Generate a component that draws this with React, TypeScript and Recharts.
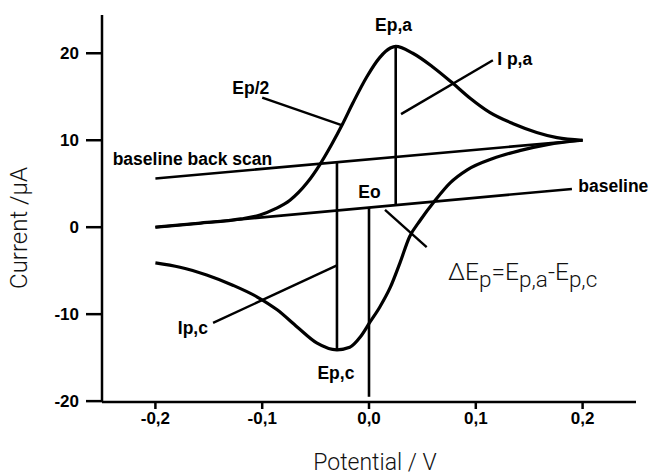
import { ComposedChart, Line, XAxis, YAxis, ReferenceLine, ReferenceDot, Label } from 'recharts';

// anodic sweep, [potential V, current µA]
const forwardScan = [
  [-0.2, 0.0], [-0.16, 0.45], [-0.12, 0.95], [-0.102, 1.4], [-0.088, 2.1], [-0.074, 3.1],
  [-0.058, 5.1], [-0.046, 7.2], [-0.035, 9.5], [-0.025, 11.8], [-0.015, 14.3], [-0.002, 17.3],
  [0.01, 19.5], [0.02, 20.6], [0.025, 20.8], [0.041, 20.0], [0.06, 18.4], [0.078, 16.6],
  [0.095, 14.8], [0.113, 13.2], [0.135, 11.9], [0.157, 10.9], [0.176, 10.3], [0.2, 10.0],
];

// cathodic (back) sweep, listed by increasing potential
const reverseScan = [
  [-0.2, -4.1], [-0.177, -4.6], [-0.152, -5.5], [-0.127, -6.7], [-0.105, -8.0], [-0.086, -9.5],
  [-0.067, -11.5], [-0.049, -13.3], [-0.03, -14.1], [-0.018, -13.8], [-0.008, -12.6], [0.001, -10.9],
  [0.01, -9.2], [0.02, -6.9], [0.029, -4.1], [0.038, -1.1], [0.048, 0.8], [0.062, 3.1],
  [0.076, 5.1], [0.092, 6.6], [0.116, 7.9], [0.141, 8.8], [0.167, 9.5], [0.2, 10.0],
];

const baseline = [[-0.2, 0.0], [0.19, 4.4]];
const backScanBaseline = [[-0.2, 5.6], [0.2, 10.0]];

// peak heights down to their baselines, plus the formal potential
const markers = [
  [[0.025, 20.8], [0.025, 2.5]],
  [[-0.03, -14.1], [-0.03, 7.5]],
  [[0.0, 2.3], [0.0, -19.5]],
];

// pointer lines from the labels
const leaders = [
  [[-0.1, 14.9], [-0.025, 11.7]],
  [[0.116, 19.2], [0.03, 13.0]],
  [[-0.146, -11.0], [-0.03, -4.4]],
  [[0.015, 2.0], [0.054, -2.3]],
];

const labels = [
  { text: 'Ep,a', E: 0.023, I: 22.6, anchor: 'middle' },
  { text: 'I p,a', E: 0.12, I: 18.6, anchor: 'start' },
  { text: 'Ep/2', E: -0.128, I: 15.3, anchor: 'start' },
  { text: 'baseline back scan', E: -0.24, I: 7.1, anchor: 'start' },
  { text: 'baseline', E: 0.196, I: 4.1, anchor: 'start' },
  { text: 'Eo', E: -0.01, I: 3.4, anchor: 'start' },
  { text: 'Ip,c', E: -0.179, I: -12.3, anchor: 'start' },
  { text: 'Ep,c', E: -0.031, I: -17.5, anchor: 'middle' },
];

const deltaLabel = { E: 0.074, I: -6.1 };

const xTicks = [-0.2, -0.1, 0, 0.1, 0.2];
const yTicks = [-20, -10, 0, 10, 20];

const BOLD = "'Liberation Sans', Arial, Helvetica, sans-serif";
const LIGHT = "Roboto, 'Liberation Sans', Arial, sans-serif";

const toPoints = (pairs: number[][]) => pairs.map(([E, I]) => ({ E, I }));
const seg = (pair: number[][]) => pair.map(([x, y]) => ({ x, y }));
const fmtPotential = (v: number) => v.toFixed(1).replace('.', ',');

const tickStyle = { fill: '#000', fontSize: 17, fontWeight: 700, fontFamily: BOLD };

function YTitle({ viewBox }: any) {
  const cx = viewBox.x + 19;
  const cy = 228;
  return (
    <text x={cx} y={cy} transform={`rotate(-90, ${cx}, ${cy})`} textAnchor="middle" dominantBaseline="central"
      fill="#111" fontSize={24} fontWeight={300} fontFamily={LIGHT}>
      Current /µA
    </text>
  );
}

function XTitle({ viewBox }: any) {
  return (
    <text x={viewBox.x + viewBox.width / 2 + 6} y={viewBox.y + 68} textAnchor="middle"
      fill="#111" fontSize={23} fontWeight={300} fontFamily={LIGHT}>
      Potential / V
    </text>
  );
}

export default function App() {
  return (
    <div style={{ position: 'absolute', left: 0, top: 0, width: 652, height: 476, background: '#fff' }}>
      <ComposedChart width={652} height={476} margin={{ top: 15, right: 16, bottom: 0, left: 0 }}>
        <XAxis
          dataKey="E"
          type="number"
          domain={[-0.25, 0.25]}
          ticks={xTicks}
          tickFormatter={fmtPotential}
          height={74}
          tickSize={7}
          tickMargin={3}
          tick={tickStyle}
          axisLine={{ stroke: '#000', strokeWidth: 2.5 }}
          tickLine={{ stroke: '#000', strokeWidth: 2.5 }}
        >
          <Label content={XTitle} />
        </XAxis>
        <YAxis
          type="number"
          domain={[-20.1, 24.4]}
          ticks={yTicks}
          width={102}
          tickSize={16}
          tickMargin={7}
          tick={tickStyle}
          axisLine={{ stroke: '#000', strokeWidth: 2.5 }}
          tickLine={{ stroke: '#000', strokeWidth: 2.5 }}
        >
          <Label content={YTitle} />
        </YAxis>

        <ReferenceLine segment={seg(baseline)} stroke="#000" strokeWidth={2.6} />
        <ReferenceLine segment={seg(backScanBaseline)} stroke="#000" strokeWidth={2.6} />
        {markers.map((m, i) => (
          <ReferenceLine key={`m${i}`} segment={seg(m)} stroke="#000" strokeWidth={2.6} />
        ))}
        {leaders.map((l, i) => (
          <ReferenceLine key={`l${i}`} segment={seg(l)} stroke="#000" strokeWidth={2.4} />
        ))}

        <Line data={toPoints(forwardScan)} dataKey="I" type="monotone" stroke="#000" strokeWidth={3.2}
          dot={false} activeDot={false} isAnimationActive={false} />
        <Line data={toPoints(reverseScan)} dataKey="I" type="monotone" stroke="#000" strokeWidth={3.2}
          dot={false} activeDot={false} isAnimationActive={false} />

        {labels.map((lb) => (
          <ReferenceDot key={lb.text} x={lb.E} y={lb.I} r={0}
            shape={(p: any) => (
              <text x={p.cx} y={p.cy} textAnchor={lb.anchor} fill="#000" fontSize={17.5}
                fontWeight={700} fontFamily={BOLD}>
                {lb.text}
              </text>
            )}
          />
        ))}

        <ReferenceDot x={deltaLabel.E} y={deltaLabel.I} r={0}
          shape={(p: any) => (
            <text x={p.cx} y={p.cy} fill="#111" fontSize={24.5} fontWeight={300} fontFamily={LIGHT}>
              ΔE<tspan dy={7} fontSize={22.5}>p</tspan>
              <tspan dy={-7}>=E</tspan><tspan dy={7} fontSize={22.5}>p,a</tspan>
              <tspan dy={-7}>-E</tspan><tspan dy={7} fontSize={22.5}>p,c</tspan>
            </text>
          )}
        />
      </ComposedChart>
    </div>
  );
}
